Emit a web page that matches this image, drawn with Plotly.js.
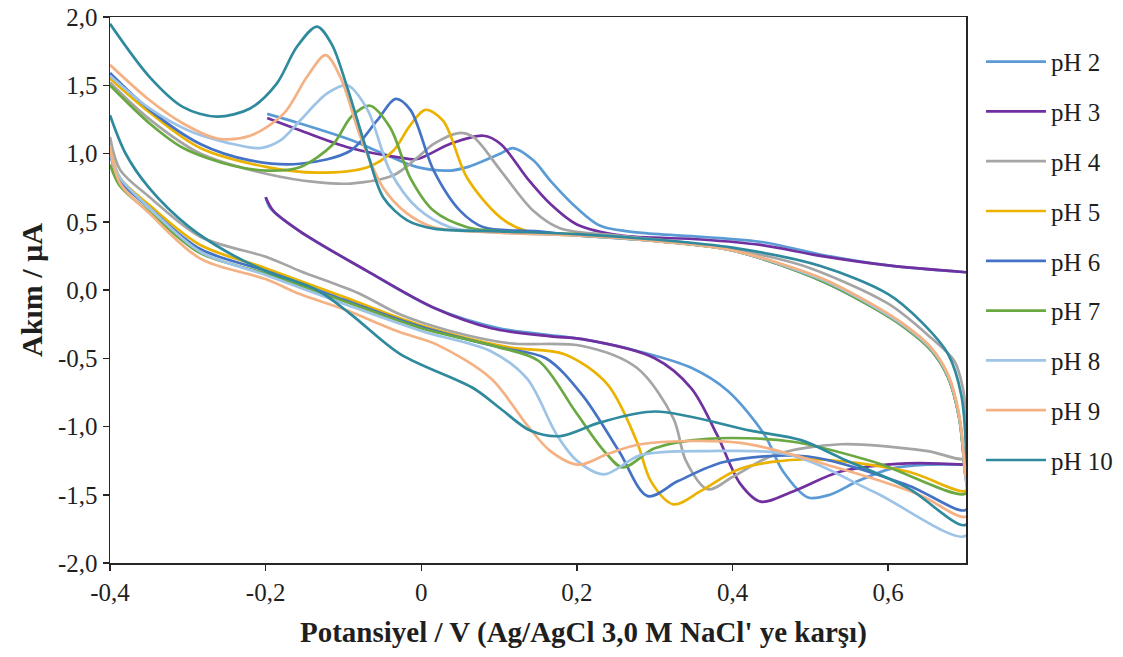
<!DOCTYPE html>
<html>
<head>
<meta charset="utf-8">
<script src="https://cdn.plot.ly/plotly-3.0.1.min.js"></script>
<style>html,body{margin:0;padding:0;background:#fff;}#chart{width:1123px;height:657px;}</style>
</head>
<body>
<div id="chart"></div>
<script>
// Series names and colours
const seriesNames = ['pH 2','pH 3','pH 4','pH 5','pH 6','pH 7','pH 8','pH 9','pH 10'];
const seriesColors = ['#5B9BD5','#7030A0','#A5A5A5','#EBB200','#4472C4','#6AA842','#9DC3E6','#F4B183','#2E8A9C'];

// Potential (V) and current (µA) for each CV loop: forward branch then reverse branch
const pH2_V = [-0.198,-0.156,-0.091,-0.049,-0.005,0.037,0.059,0.102,0.118,0.144,0.166,0.2,0.23,0.28,0.36,0.44,0.513,0.6,0.7,
  null,0.7,0.65,0.603,0.561,0.525,0.497,0.465,0.441,0.394,0.347,0.28,0.207,0.1,0.016,-0.07,-0.156,-0.194,-0.2];
const pH2_I = [1.29,1.22,1.10,1.00,0.90,0.875,0.90,1.0,1.04,0.95,0.80,0.6,0.47,0.42,0.39,0.35,0.26,0.18,0.13,
  null,-1.28,-1.28,-1.31,-1.40,-1.50,-1.52,-1.33,-1.06,-0.74,-0.57,-0.45,-0.36,-0.28,-0.13,0.14,0.43,0.60,0.68];

const pH3_V = [-0.198,-0.156,-0.091,-0.027,-0.005,0.037,0.08,0.102,0.136,0.166,0.2,0.256,0.36,0.436,0.513,0.6,0.7,
  null,0.7,0.625,0.539,0.48,0.436,0.41,0.38,0.347,0.30,0.207,0.166,0.09,0.016,-0.07,-0.156,-0.19,-0.2];
const pH3_I = [1.26,1.17,1.04,0.97,0.96,1.07,1.13,1.07,0.82,0.63,0.48,0.40,0.37,0.33,0.25,0.18,0.13,
  null,-1.28,-1.27,-1.33,-1.47,-1.55,-1.42,-1.06,-0.72,-0.50,-0.36,-0.34,-0.28,-0.13,0.14,0.43,0.58,0.68];

const pH4_V = [-0.4,-0.349,-0.284,-0.198,-0.134,-0.091,-0.036,-0.005,0.016,0.048,0.067,0.102,0.144,0.179,0.25,0.35,0.45,0.5,0.6,0.655,0.685,0.696,0.7,
  0.7,0.651,0.539,0.453,0.40,0.368,0.34,0.324,0.277,0.207,0.113,0.037,-0.027,-0.082,-0.156,-0.198,-0.284,-0.349,-0.387,-0.4];
const pH4_I = [1.52,1.25,1.0,0.85,0.79,0.78,0.84,0.97,1.07,1.15,1.12,0.875,0.58,0.45,0.40,0.34,0.24,0.16,-0.1,-0.35,-0.52,-0.72,-0.91,
  -1.23,-1.18,-1.13,-1.21,-1.37,-1.46,-1.25,-0.94,-0.57,-0.41,-0.39,-0.30,-0.18,-0.02,0.14,0.24,0.39,0.68,0.88,1.12];

const pH5_V = [-0.4,-0.349,-0.284,-0.198,-0.134,-0.069,-0.036,-0.015,0.005,0.028,0.059,0.102,0.136,0.2,0.3,0.4,0.513,0.578,0.62,0.655,0.677,0.691,0.698,
  0.7,0.625,0.497,0.41,0.36,0.324,0.295,0.277,0.239,0.184,0.113,0.0,-0.1,-0.2,-0.284,-0.349,-0.387,-0.4];
const pH5_I = [1.55,1.30,1.04,0.90,0.86,0.90,1.02,1.20,1.32,1.24,0.82,0.53,0.43,0.41,0.36,0.29,0.08,-0.11,-0.26,-0.43,-0.63,-0.92,-1.3,
  -1.47,-1.33,-1.24,-1.31,-1.47,-1.57,-1.40,-1.11,-0.69,-0.47,-0.42,-0.26,-0.05,0.16,0.33,0.62,0.82,1.03];

const pH6_V = [-0.4,-0.349,-0.284,-0.22,-0.156,-0.091,-0.057,-0.033,-0.014,0.016,0.05,0.08,0.15,0.2,0.3,0.4,0.513,0.578,0.62,0.655,0.677,0.691,0.698,
  0.7,0.625,0.497,0.389,0.33,0.291,0.254,0.207,0.16,0.1,0.0,-0.1,-0.2,-0.284,-0.349,-0.387,-0.4];
const pH6_I = [1.59,1.32,1.07,0.95,0.925,1.02,1.24,1.40,1.32,0.875,0.58,0.46,0.43,0.40,0.36,0.29,0.07,-0.12,-0.27,-0.44,-0.64,-0.93,-1.3,
  -1.61,-1.43,-1.22,-1.26,-1.40,-1.51,-1.18,-0.77,-0.50,-0.42,-0.27,-0.07,0.14,0.30,0.60,0.80,1.0];

const pH7_V = [-0.4,-0.349,-0.306,-0.242,-0.198,-0.156,-0.113,-0.09,-0.066,-0.04,-0.014,0.016,0.059,0.1,0.2,0.3,0.4,0.513,0.578,0.62,0.655,0.677,0.691,0.698,
  0.7,0.582,0.475,0.368,0.3,0.259,0.235,0.198,0.151,0.1,0.0,-0.1,-0.2,-0.284,-0.349,-0.387,-0.4];
const pH7_I = [1.50,1.22,1.04,0.91,0.875,0.90,1.07,1.27,1.35,1.19,0.82,0.58,0.46,0.43,0.40,0.36,0.29,0.07,-0.12,-0.27,-0.44,-0.64,-0.93,-1.3,
  -1.49,-1.26,-1.11,-1.09,-1.16,-1.30,-1.18,-0.89,-0.52,-0.42,-0.28,-0.08,0.12,0.27,0.57,0.76,0.92];

const pH8_V = [-0.4,-0.349,-0.3,-0.25,-0.207,-0.18,-0.156,-0.121,-0.095,-0.069,-0.04,-0.005,0.037,0.1,0.2,0.3,0.4,0.513,0.578,0.62,0.655,0.677,0.691,0.698,
  0.7,0.582,0.475,0.368,0.282,0.235,0.2,0.174,0.136,0.09,0.0,-0.1,-0.2,-0.284,-0.349,-0.387,-0.4];
const pH8_I = [1.57,1.33,1.17,1.08,1.04,1.10,1.24,1.44,1.50,1.32,0.87,0.60,0.46,0.42,0.40,0.36,0.29,0.08,-0.11,-0.26,-0.43,-0.63,-0.92,-1.3,
  -1.80,-1.48,-1.21,-1.18,-1.21,-1.35,-1.25,-1.06,-0.65,-0.45,-0.30,-0.10,0.11,0.28,0.60,0.82,1.0];

const pH9_V = [-0.4,-0.349,-0.306,-0.262,-0.22,-0.177,-0.147,-0.123,-0.104,-0.078,-0.049,-0.018,0.016,0.1,0.2,0.3,0.4,0.513,0.578,0.62,0.655,0.677,0.691,0.698,
  0.7,0.64,0.539,0.41,0.282,0.24,0.202,0.166,0.136,0.09,0.02,-0.027,-0.1,-0.156,-0.2,-0.284,-0.349,-0.387,-0.4];
const pH9_I = [1.65,1.39,1.22,1.11,1.13,1.29,1.56,1.72,1.56,1.12,0.75,0.56,0.46,0.42,0.40,0.36,0.29,0.09,-0.10,-0.25,-0.42,-0.62,-0.91,-1.28,
  -1.66,-1.50,-1.31,-1.12,-1.13,-1.20,-1.28,-1.18,-0.99,-0.65,-0.40,-0.31,-0.14,-0.03,0.08,0.23,0.56,0.78,1.05];

const pH10_V = [-0.4,-0.349,-0.306,-0.263,-0.22,-0.186,-0.16,-0.134,-0.115,-0.0955,-0.07,-0.049,-0.018,0.016,0.1,0.2,0.3,0.4,0.513,0.6,0.642,0.677,0.694,0.7,
  0.7,0.625,0.539,0.488,0.423,0.301,0.23,0.179,0.14,0.102,0.067,-0.027,-0.09,-0.134,-0.2,-0.25,-0.3,-0.35,-0.38,-0.4];
const pH10_I = [1.95,1.56,1.34,1.27,1.33,1.51,1.78,1.93,1.80,1.49,1.02,0.68,0.51,0.45,0.43,0.41,0.37,0.31,0.176,-0.03,-0.23,-0.47,-0.77,-1.16,
  -1.72,-1.45,-1.23,-1.10,-1.03,-0.89,-0.97,-1.07,-1.03,-0.87,-0.72,-0.47,-0.18,0.0,0.14,0.28,0.47,0.75,1.0,1.28];

// Axis ticks
const xTickVals = [-0.4,-0.2,0,0.2,0.4,0.6];
const xTickText = ['-0,4','-0,2','0','0,2','0,4','0,6'];
const yTickVals = [-2,-1.5,-1,-0.5,0,0.5,1,1.5,2];
const yTickText = ['-2,0','-1,5','-1,0','-0,5','0,0','0,5','1,0','1,5','2,0'];

const allV = [pH2_V,pH3_V,pH4_V,pH5_V,pH6_V,pH7_V,pH8_V,pH9_V,pH10_V];
const allI = [pH2_I,pH3_I,pH4_I,pH5_I,pH6_I,pH7_I,pH8_I,pH9_I,pH10_I];

const FONT = 'Liberation Serif, Times New Roman, serif';
const TXT = '#1f1f1f';

const traces = seriesNames.map((name, k) => ({
  type: 'scatter', mode: 'lines', name: name,
  x: allV[k], y: allI[k],
  legendgroup: name,
  connectgaps: false,
  line: {color: seriesColors[k], width: 2.7, shape: 'spline', smoothing: 0.9}
}));

const axisLine = '#262626';
const layout = {
  width: 1123, height: 657,
  margin: {l: 110, r: 157, t: 17, b: 94, autoexpand: false},
  paper_bgcolor: '#ffffff', plot_bgcolor: '#ffffff',
  font: {family: FONT, color: TXT, size: 25},
  showlegend: true,
  legend: {
    x: 1.0175, xanchor: 'left', y: 0.96, yanchor: 'top',
    tracegroupgap: 14.3, itemwidth: 60,
    font: {family: FONT, size: 25, color: TXT},
    bgcolor: 'rgba(0,0,0,0)'
  },
  xaxis: {
    range: [-0.4, 0.7], tickvals: xTickVals, ticktext: xTickText,
    showgrid: false, zeroline: false, automargin: false,
    showline: true, linecolor: axisLine, linewidth: 1.5, mirror: true,
    ticks: 'outside', ticklen: 6, tickwidth: 1.5, tickcolor: axisLine,
    tickfont: {family: FONT, size: 25, color: TXT}
  },
  yaxis: {
    range: [-2, 2], tickvals: yTickVals, ticktext: yTickText,
    showgrid: false, zeroline: false, automargin: false,
    showline: true, linecolor: axisLine, linewidth: 1.5, mirror: true,
    ticks: 'outside', ticklen: 6, tickwidth: 1.5, tickcolor: axisLine,
    tickfont: {family: FONT, size: 25, color: TXT},
    title: {text: '<b>Akım / µA</b>', font: {family: FONT, size: 30, color: TXT}, standoff: 6}
  },
  annotations: [{
    text: "<b>Potansiyel / V (Ag/AgCl 3,0 M NaCl' ye karşı)</b>",
    xref: 'paper', yref: 'paper', x: 0.5526, y: -0.128,
    xanchor: 'center', yanchor: 'middle', showarrow: false,
    font: {family: FONT, size: 29, color: TXT}
  }]
};

Plotly.newPlot('chart', traces, layout, {displayModeBar: false, staticPlot: true});
</script>
</body>
</html>
